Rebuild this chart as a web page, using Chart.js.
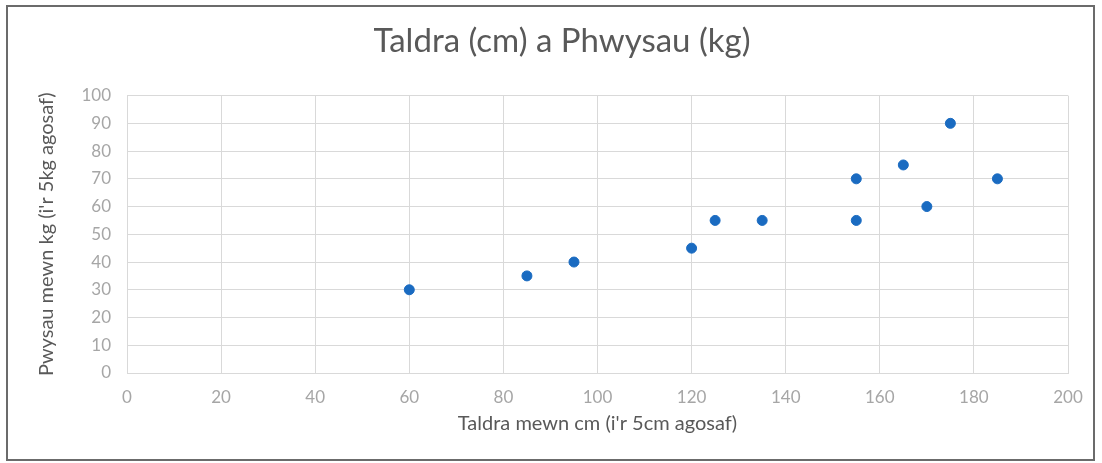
<!DOCTYPE html>
<html>
<head>
<meta charset="utf-8">
<script src="https://cdn.jsdelivr.net/npm/chart.js@4.4.0/dist/chart.umd.min.js"></script>
<style>
  html, body { margin: 0; padding: 0; background: #fff; }
  #frame {
    position: absolute; left: 6px; top: 5px;
    width: 1085px; height: 452px;
    border: 2px solid #6b6b6b;
    pointer-events: none;
  }
  #wrap { position: absolute; left: 0; top: 0; width: 1102px; height: 463px; }
</style>
</head>
<body>
<div id="wrap"><canvas id="chart"></canvas></div>
<div id="frame"></div>
<script>
// heights (cm) and weights (kg)
const heights = [60, 85, 95, 120, 125, 135, 155, 155, 165, 170, 175, 185];
const weights = [30, 35, 40, 45, 55, 55, 55, 70, 75, 60, 90, 70];

const chartTitle = 'Taldra (cm) a Phwysau (kg)';
const xTitle = "Taldra mewn cm (i'r 5cm agosaf)";
const yTitle = "Pwysau mewn kg (i'r 5kg agosaf)";

const points = heights.map((h, i) => ({ x: h, y: weights[i] }));

const tickColor = '#a6a6a6';
const textColor = '#595959';
const gridColor = '#d9d9d9';

new Chart(document.getElementById('chart'), {
  type: 'scatter',
  data: {
    datasets: [{
      data: points,
      backgroundColor: '#1a6bc1',
      borderColor: '#1a6bc1',
      pointRadius: 5,
      pointHoverRadius: 5
    }]
  },
  options: {
    responsive: true,
    maintainAspectRatio: false,
    animation: false,
    layout: { padding: { top: 12, left: 56, right: 34, bottom: 20 } },
    plugins: {
      legend: { display: false },
      tooltip: { enabled: false },
      title: {
        display: true,
        text: chartTitle,
        color: textColor,
        font: { family: 'Lato', size: 33, weight: 'normal' },
        padding: { top: 10, bottom: 34 }
      }
    },
    scales: {
      x: {
        type: 'linear',
        min: 0,
        max: 200,
        ticks: {
          stepSize: 20,
          color: tickColor,
          font: { family: 'Lato', size: 17 },
          padding: 14
        },
        grid: { color: gridColor, drawTicks: false },
        border: { color: gridColor },
        title: {
          display: true,
          text: xTitle,
          color: textColor,
          font: { family: 'Lato', size: 20 },
          padding: { top: 4, bottom: 7 }
        },
        afterFit: (scale) => { scale.height = 70; }
      },
      y: {
        min: 0,
        max: 100,
        ticks: {
          stepSize: 10,
          color: tickColor,
          font: { family: 'Lato', size: 17 },
          padding: 16
        },
        grid: { color: gridColor, drawTicks: false },
        border: { color: gridColor },
        title: {
          display: true,
          text: yTitle,
          color: textColor,
          font: { family: 'Lato', size: 20 },
          padding: { top: -21, bottom: 4 }
        },
        afterFit: (scale) => { scale.width = 71; }
      }
    }
  }
});
</script>
</body>
</html>
